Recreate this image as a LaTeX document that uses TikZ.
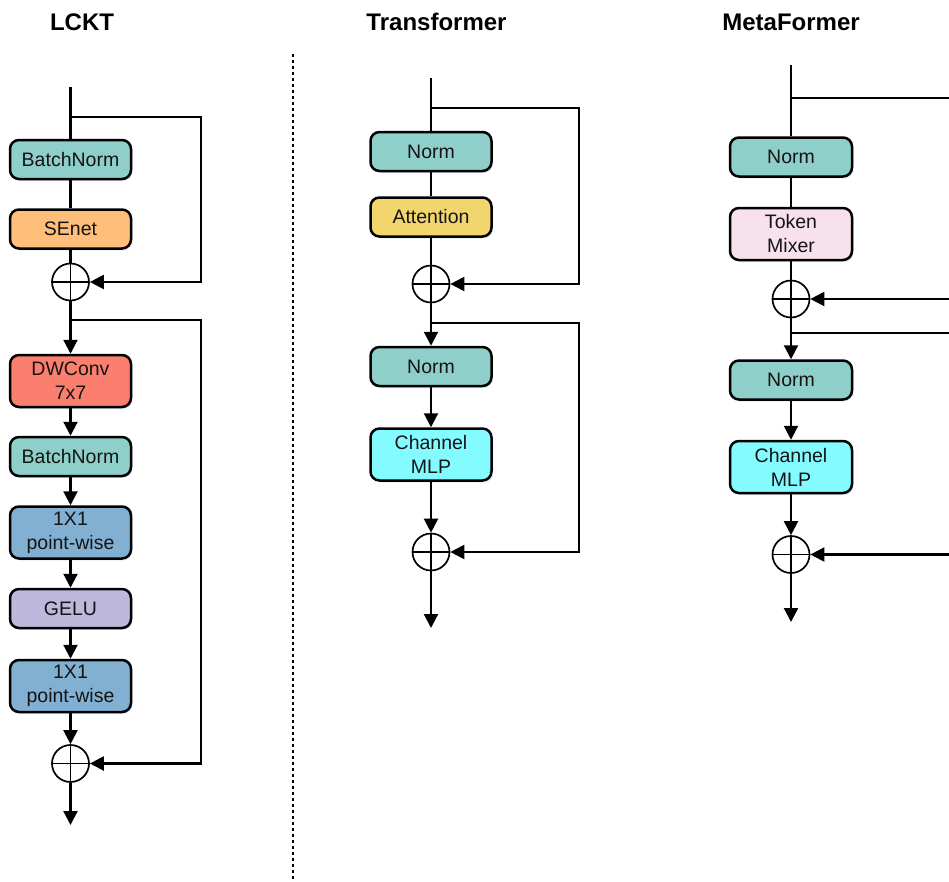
\documentclass[tikz,border=0pt]{standalone}
\usepackage{fontspec}
\setmainfont{Liberation Sans}
\usetikzlibrary{arrows.meta,shadows}
\definecolor{cteal}{HTML}{8ECFC9}
\definecolor{corange}{HTML}{FFBE7A}
\definecolor{cred}{HTML}{FA7F6F}
\definecolor{cblue}{HTML}{82B0D2}
\definecolor{cpurple}{HTML}{BEB8DC}
\definecolor{cgold}{HTML}{F3D56E}
\definecolor{ccyan}{HTML}{84FBFF}
\definecolor{cpink}{HTML}{F6E1EC}
\begin{document}
\begin{tikzpicture}[x=1pt,y=-1pt,
  blk/.style={draw=black, line width=2.5pt, rounded corners=9pt, minimum width=121pt, minimum height=39pt, inner sep=0pt, align=center, font=\fontsize{19.5}{24}\selectfont, text=black!92, drop shadow={shadow xshift=1.5pt, shadow yshift=-2pt, fill=cyan!30!blue, opacity=0.12}},
  tall/.style={minimum height=52pt},
  ttl/.style={font=\fontsize{24}{28}\selectfont\bfseries},
  con/.style={line width=2.2pt},
  arr/.style={con, -{Triangle[width=14pt,length=14pt]}},
  sum/.style={circle, draw, line width=1.7pt, minimum size=37pt, inner sep=0pt, fill=white,
    path picture={\draw[line width=1.7pt] (path picture bounding box.north) -- (path picture bounding box.south) (path picture bounding box.west) -- (path picture bounding box.east);}},
]
\useasboundingbox (0,0) rectangle (949,881);

% separator
\draw[line width=2pt, dash pattern=on 3pt off 3pt] (293,54) -- (293,881);

% ---------------- LCKT ----------------
\node[ttl] (t1) at (82,22) {LCKT};
\coordinate (a0) at (70.5,87);
\node[blk,fill=cteal] (a1) at (70.5,159.5) {BatchNorm};
\node[blk,fill=corange] (a2) at (70.5,229) {SEnet};
\node[sum] (s1) at (70.5,282) {};
\node[blk,tall,fill=cred] (a3) at (70.5,381) {DWConv\\7x7};
\node[blk,fill=cteal] (a4) at (70.5,456.5) {BatchNorm};
\node[blk,tall,fill=cblue] (a5) at (70.5,532.5) {1X1\\point-wise};
\node[blk,fill=cpurple] (a6) at (70.5,608.5) {GELU};
\node[blk,tall,fill=cblue] (a7) at (70.5,686) {1X1\\point-wise};
\node[sum] (s2) at (70.5,763.5) {};
\coordinate (a8) at (70.5,825);
\coordinate (b1) at (70.5,117);
\coordinate (b1r) at (201,117);
\coordinate (b2) at (70.5,320);
\coordinate (b2r) at (201,320);

\draw[con] (a0) -- (a1);
\draw[con] (a1) -- (a2);
\draw[con] (a2) -- (s1);
\draw[arr] (b1) -- (b1r) |- (s1.east);
\draw[arr] (s1) -- (a3);
\draw[arr] (b2) -- (b2r) |- (s2.east);
\draw[arr] (a3) -- (a4);
\draw[arr] (a4) -- (a5);
\draw[arr] (a5) -- (a6);
\draw[arr] (a6) -- (a7);
\draw[arr] (a7) -- (s2);
\draw[arr] (s2) -- (a8);

% ---------------- Transformer ----------------
\node[ttl] (t2) at (436.5,22) {Transformer};
\coordinate (c0) at (431,78);
\node[blk,fill=cteal] (c1) at (431,151.5) {Norm};
\node[blk,fill=cgold] (c2) at (431,217) {Attention};
\node[sum] (u1) at (431,284) {};
\node[blk,fill=cteal] (c3) at (431,366.5) {Norm};
\node[blk,tall,fill=ccyan] (c4) at (431,454.5) {Channel\\MLP};
\node[sum] (u2) at (431,552) {};
\coordinate (c5) at (431,628);
\coordinate (d1) at (431,108);
\coordinate (d1r) at (579,108);
\coordinate (d2) at (431,323);
\coordinate (d2r) at (579,323);

\draw[con] (c0) -- (c1);
\draw[con] (c1) -- (c2);
\draw[con] (c2) -- (u1);
\draw[arr] (d1) -- (d1r) |- (u1.east);
\draw[arr] (u1) -- (c3);
\draw[arr] (d2) -- (d2r) |- (u2.east);
\draw[arr] (c3) -- (c4);
\draw[arr] (c4) -- (u2);
\draw[arr] (u2) -- (c5);

% ---------------- MetaFormer ----------------
\node[ttl] (t3) at (791,22) {MetaFormer};
\coordinate (e0) at (791,65);
\node[blk,fill=cteal,minimum width=122pt] (e1) at (791,157) {Norm};
\node[blk,tall,fill=cpink,minimum width=122pt] (e2) at (791,234) {Token\\Mixer};
\node[sum] (v1) at (791,299) {};
\node[blk,fill=cteal,minimum width=122pt] (e3) at (791,380) {Norm};
\node[blk,tall,fill=ccyan,minimum width=122pt] (e4) at (791,467) {Channel\\MLP};
\node[sum] (v2) at (791,554.5) {};
\coordinate (e5) at (791,622);
\coordinate (f1) at (791,98);
\coordinate (f1r) at (949,98);
\coordinate (f2) at (949,299);
\coordinate (f3) at (791,333);
\coordinate (f3r) at (949,333);
\coordinate (f4) at (949,554.5);

\draw[con] (e0) -- (e1);
\draw[con] (e1) -- (e2);
\draw[con] (e2) -- (v1);
\draw[con] (f1) -- (f1r);
\draw[arr] (f2) -- (v1.east);
\draw[arr] (v1) -- (e3);
\draw[con] (f3) -- (f3r);
\draw[arr] (f4) -- (v2.east);
\draw[arr] (e3) -- (e4);
\draw[arr] (e4) -- (v2);
\draw[arr] (v2) -- (e5);
\end{tikzpicture}
\end{document}
